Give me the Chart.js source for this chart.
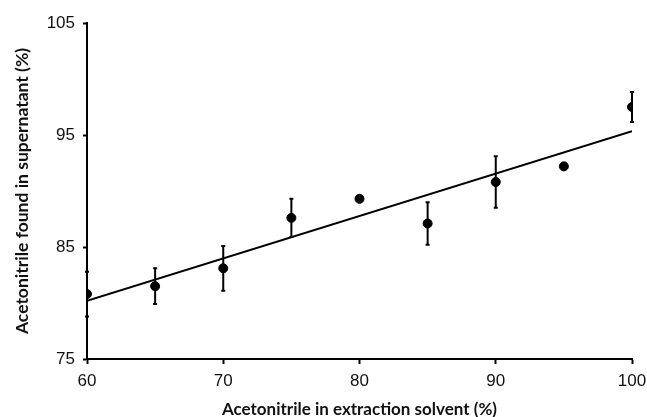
<!DOCTYPE html>
<html>
<head>
<meta charset="utf-8">
<script src="https://cdn.jsdelivr.net/npm/chart.js@4.4.0/dist/chart.umd.min.js"></script>
<style>
  html, body { margin: 0; padding: 0; background: #fff; }
  #wrap { width: 647px; height: 417px; }
</style>
</head>
<body>
<div id="wrap"><canvas id="grafico" width="647" height="417"></canvas></div>
<script>
// === Dados ===
var solvente = [60, 65, 70, 75, 80, 85, 90, 95, 100];
var encontrado = [80.8, 81.5, 83.1, 87.6, 89.3, 87.1, 90.8, 92.2, 97.5];
var erro = [2.0, 1.6, 2.0, 1.7, 0.2, 1.9, 2.3, 0.3, 1.35];
var tendenciaX = [60, 100];
var tendenciaY = [80.2, 95.35];
var ticksX = [60, 70, 80, 90, 100];
var ticksY = [75, 85, 95, 105];

var pontos = solvente.map(function (x, i) { return { x: x, y: encontrado[i] }; });
var linha = tendenciaX.map(function (x, i) { return { x: x, y: tendenciaY[i] }; });

// === barras de erro ===
var barrasErro = {
  id: 'barrasErro',
  afterDatasetsDraw: function (chart) {
    var ctx = chart.ctx;
    var sx = chart.scales.x, sy = chart.scales.y;
    ctx.save();
    ctx.strokeStyle = '#000';
    ctx.lineWidth = 2;
    for (var i = 0; i < solvente.length; i++) {
      var px = sx.getPixelForValue(solvente[i]);
      var top = sy.getPixelForValue(encontrado[i] + erro[i]);
      var bot = sy.getPixelForValue(encontrado[i] - erro[i]);
      ctx.beginPath();
      ctx.moveTo(px, top); ctx.lineTo(px, bot);
      ctx.moveTo(px - 2, top); ctx.lineTo(px + 2, top);
      ctx.moveTo(px - 2, bot); ctx.lineTo(px + 2, bot);
      ctx.stroke();
    }
    ctx.restore();
  }
};

var fonteTick = { family: 'Liberation Sans', size: 17 };

new Chart(document.getElementById('grafico'), {
  type: 'scatter',
  data: {
    datasets: [{
      label: 'Medido',
      data: pontos,
      backgroundColor: '#000',
      borderColor: '#000',
      pointRadius: 4.5,
      order: 1
    }, {
      type: 'line',
      label: 'Tendência',
      data: linha,
      borderColor: '#000',
      borderWidth: 2,
      pointRadius: 0,
      fill: false,
      order: 2
    }]
  },
  options: {
    responsive: false,
    animation: false,
    layout: { padding: { top: 23, right: 15, left: 0, bottom: 0 } },
    plugins: { legend: { display: false }, tooltip: { enabled: false } },
    scales: {
      x: {
        type: 'linear',
        min: 60, max: 100,
        afterBuildTicks: function (s) { s.ticks = ticksX.map(function (v) { return { value: v }; }); },
        afterFit: function (s) { s.height = 58; s.paddingLeft = 0; s.paddingRight = 0; },
        grid: { drawOnChartArea: false, drawTicks: true, tickLength: 5, tickColor: '#000', tickWidth: 2 },
        border: { color: '#000', width: 2 },
        ticks: { color: '#111', font: fonteTick, padding: 7, maxRotation: 0 },
        title: { display: true, text: 'Acetonitrile in extraction solvent (%)', color: '#111', font: { family: 'Lato', weight: 'bold', size: 17, lineHeight: 1 }, padding: { top: 0, bottom: -1 } }
      },
      y: {
        type: 'linear',
        min: 75, max: 105,
        afterBuildTicks: function (s) { s.ticks = ticksY.map(function (v) { return { value: v }; }); },
        afterFit: function (s) { s.width = 87; s.paddingTop = 0; s.paddingBottom = 0; },
        grid: { drawOnChartArea: false, drawTicks: true, tickLength: 4, tickColor: '#000', tickWidth: 2 },
        border: { color: '#000', width: 2 },
        ticks: { color: '#111', font: fonteTick, padding: 8 },
        title: { display: true, text: 'Acetonitrile found in supernatant (%)', color: '#111', font: { family: 'Lato', weight: 'bold', size: 17.5, lineHeight: 1 }, padding: { top: 14, bottom: 0 } }
      }
    }
  },
  plugins: [barrasErro]
});
</script>
</body>
</html>
